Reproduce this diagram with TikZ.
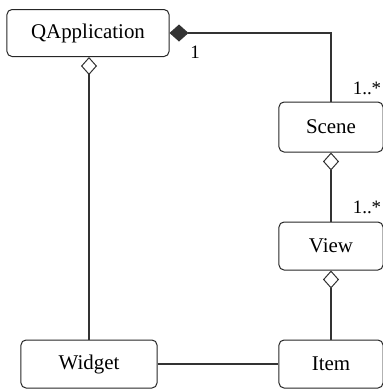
\documentclass[tikz,border=0pt]{standalone}
\usepackage{fontspec}
\setmainfont{Liberation Serif}
\usetikzlibrary{arrows.meta}
\begin{document}
\begin{tikzpicture}[x=1bp,y=-1bp,
  cls/.style={draw=black!85,line width=1bp,rounded corners=5bp,inner sep=0pt,minimum height=48bp,font=\fontsize{21}{24}\selectfont},
  conn/.style={draw=black!80,line width=1.1bp},
  agg/.style={{Diamond[open,length=18bp,width=16bp,line width=1bp]}-},
  comp/.style={{Diamond[length=19bp,width=17bp]}-},
  mult/.style={font=\fontsize{19}{21}\selectfont,inner sep=0pt}]
\useasboundingbox (0,0) rectangle (383,389);
\node[cls,minimum width=162bp,minimum height=47bp] (qa) at (88,33) {QApplication};
\node[cls,minimum width=104bp,minimum height=50bp] (scene) at (331,127) {Scene};
\node[cls,minimum width=104bp] (view) at (331,246) {View};
\node[cls,minimum width=104bp] (item) at (331,364) {Item};
\node[cls,minimum width=136bp] (widget) at (89,364) {Widget};
\draw[conn,comp] (qa.east) -| (scene.north);
\draw[conn,agg] (qa.south -| widget.north) -- (widget.north);
\draw[conn,agg] (scene.south) -- (view.north);
\draw[conn,agg] (view.south) -- (item.north);
\draw[conn] (widget.east) -- (item.west);
\node[mult] (m1) at (195,52) {1};
\node[mult] (m2) at (367,88) {1..*};
\node[mult] (m3) at (367,207) {1..*};
\end{tikzpicture}
\end{document}
